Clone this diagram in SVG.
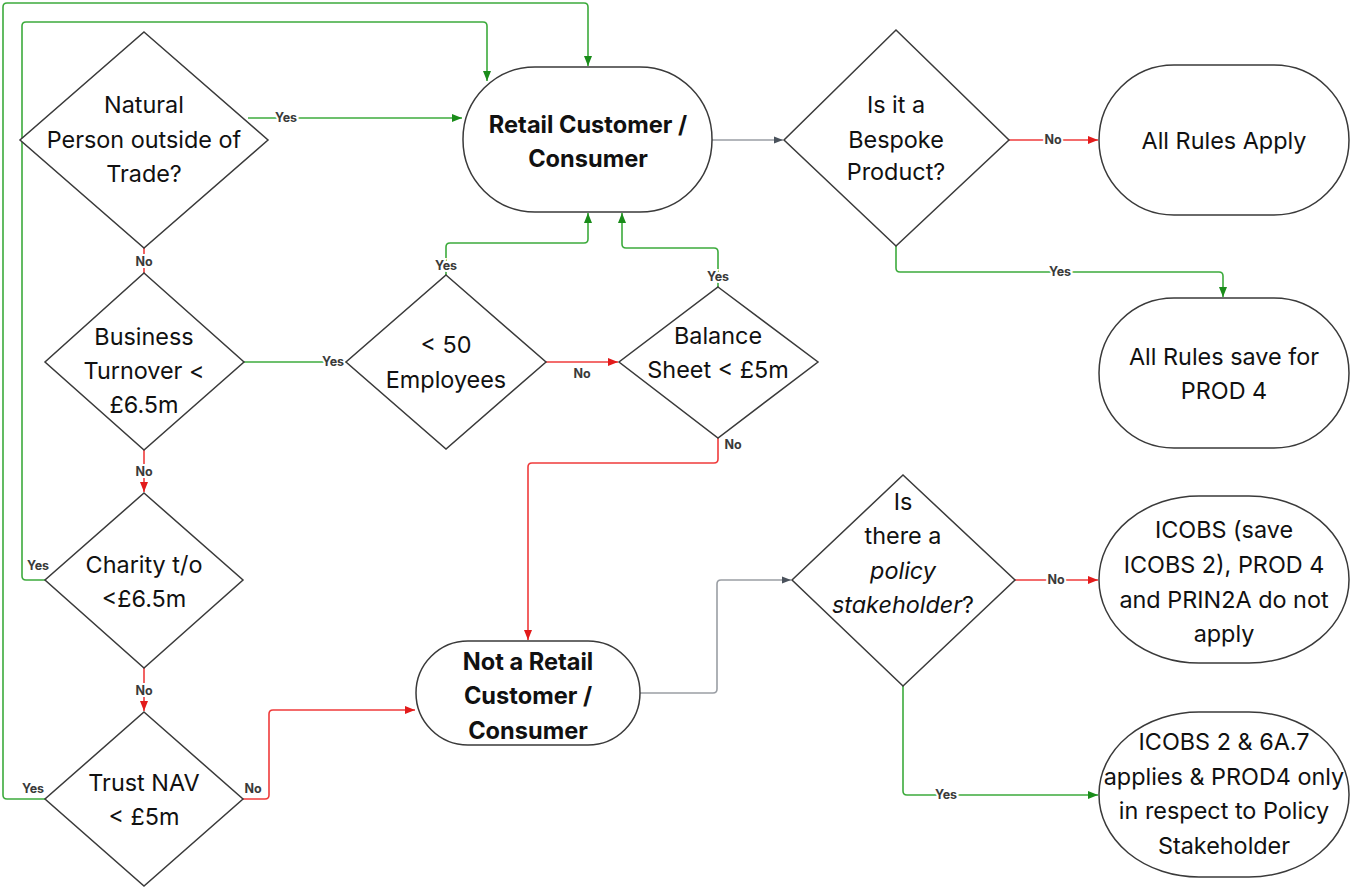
<svg xmlns="http://www.w3.org/2000/svg" width="1350" height="888" viewBox="0 0 1350 888">
<style>
.node{fill:#fff;stroke:#3a3a3a;stroke-width:1.5}
.t{font-family:Inter,"Liberation Sans",sans-serif;font-size:23.4px;fill:#111;text-anchor:middle}
.b{font-weight:bold;font-size:23.6px}
.g{fill:none;stroke:#3cab3c;stroke-width:1.6}
.r{fill:none;stroke:#ef3b3b;stroke-width:1.6}
.k{fill:none;stroke:#9a9ea4;stroke-width:1.6}
.l{font-family:Inter,"Liberation Sans",sans-serif;font-size:12.5px;font-weight:bold;fill:#3a3a3a;text-anchor:middle;paint-order:stroke;stroke:#fff;stroke-width:4px}
</style>
<defs>
<marker id="ag" viewBox="0 0 10 10" refX="10" refY="5" markerWidth="10" markerHeight="10" markerUnits="userSpaceOnUse" orient="auto"><path d="M0,1 L10,5 L0,9 z" fill="#1a8c1a"/></marker>
<marker id="ar" viewBox="0 0 10 10" refX="10" refY="5" markerWidth="10" markerHeight="10" markerUnits="userSpaceOnUse" orient="auto"><path d="M0,1 L10,5 L0,9 z" fill="#e21b1b"/></marker>
<marker id="ak" viewBox="0 0 10 10" refX="10" refY="5" markerWidth="9" markerHeight="9" markerUnits="userSpaceOnUse" orient="auto"><path d="M0,1 L10,5 L0,9 z" fill="#4a525c"/></marker>
</defs>
<rect width="1350" height="888" fill="#fff"/>

<g id="connectors">
<path class="g" d="M248,118 H462" marker-end="url(#ag)"/>
<path class="r" d="M144,248 V273"/>
<path class="g" d="M244,362 H346"/>
<path class="r" d="M144,450 V492" marker-end="url(#ar)"/>
<path class="g" d="M45,580 H26 Q22,580 22,576 V26 Q22,22 26,22 H483 Q487,22 487,26 V81" marker-end="url(#ag)"/>
<path class="r" d="M144,668 V711" marker-end="url(#ar)"/>
<path class="g" d="M45,799 H7 Q3,799 3,795 V7 Q3,3 7,3 H584 Q588,3 588,7 V66" marker-end="url(#ag)"/>
<path class="r" d="M243,799 H265 Q269,799 269,795 V714 Q269,710 273,710 H415" marker-end="url(#ar)"/>
<path class="g" d="M446,275 V247 Q446,243 450,243 H584 Q588,243 588,239 V213" marker-end="url(#ag)"/>
<path class="r" d="M546,362 H618" marker-end="url(#ar)"/>
<path class="g" d="M718,287 V252 Q718,248 714,248 H626 Q622,248 622,244 V213" marker-end="url(#ag)"/>
<path class="r" d="M718,438 V459 Q718,463 714,463 H532 Q528,463 528,467 V640" marker-end="url(#ar)"/>
<path class="k" d="M712,140 H783" marker-end="url(#ak)"/>
<path class="r" d="M1009,140 H1098" marker-end="url(#ar)"/>
<path class="g" d="M896,246 V268 Q896,272 900,272 H1219 Q1223,272 1223,276 V297" marker-end="url(#ag)"/>
<path class="k" d="M640,693 H713 Q717,693 717,689 V584 Q717,580 721,580 H791" marker-end="url(#ak)"/>
<path class="r" d="M1015,580 H1098" marker-end="url(#ar)"/>
<path class="g" d="M903,686 V791 Q903,795 907,795 H1098" marker-end="url(#ag)"/>
<text class="l" x="286" y="122">Yes</text>
<text class="l" x="144" y="266">No</text>
<text class="l" x="333" y="366">Yes</text>
<text class="l" x="144" y="476">No</text>
<text class="l" x="38" y="570">Yes</text>
<text class="l" x="144" y="695">No</text>
<text class="l" x="33" y="793">Yes</text>
<text class="l" x="253" y="793">No</text>
<text class="l" x="446" y="270">Yes</text>
<text class="l" x="582" y="378">No</text>
<text class="l" x="718" y="281">Yes</text>
<text class="l" x="733" y="449">No</text>
<text class="l" x="1053" y="144">No</text>
<text class="l" x="1060" y="276">Yes</text>
<text class="l" x="1056" y="584">No</text>
<text class="l" x="946" y="799">Yes</text>
</g>

<g id="natural">
<polygon class="node" points="144,32 268,140 144,248 20,140"/>
<text class="t" x="144" y="113">Natural</text>
<text class="t" x="144" y="148">Person outside of</text>
<text class="t" x="144" y="182">Trade?</text>
</g>
<g id="retail">
<rect class="node" x="463" y="67" width="249" height="145" rx="72" ry="72"/>
<text class="t b" x="588" y="133">Retail Customer /</text>
<text class="t b" x="588" y="167">Consumer</text>
</g>
<g id="bespoke">
<polygon class="node" points="896,30 1009,140 896,246 784,140"/>
<text class="t" x="896" y="113">Is it a</text>
<text class="t" x="896" y="148">Bespoke</text>
<text class="t" x="896" y="180">Product?</text>
</g>
<g id="allrules">
<rect class="node" x="1099" y="65" width="250" height="150" rx="75" ry="75"/>
<text class="t" x="1224" y="149">All Rules Apply</text>
</g>
<g id="allrulessave">
<rect class="node" x="1099" y="298" width="250" height="150" rx="75" ry="75"/>
<text class="t" x="1224" y="365">All Rules save for</text>
<text class="t" x="1224" y="399">PROD 4</text>
</g>
<g id="business">
<polygon class="node" points="144,273 244,362 144,450 45,362"/>
<text class="t" x="144" y="345">Business</text>
<text class="t" x="144" y="379">Turnover &lt;</text>
<text class="t" x="144" y="413">£6.5m</text>
</g>
<g id="employees">
<polygon class="node" points="446,275 546,362 446,449 346,362"/>
<text class="t" x="446" y="353">&lt; 50</text>
<text class="t" x="446" y="388">Employees</text>
</g>
<g id="balance">
<polygon class="node" points="718,287 818,362 718,438 619,362"/>
<text class="t" x="718" y="344">Balance</text>
<text class="t" x="718" y="378">Sheet &lt; £5m</text>
</g>
<g id="charity">
<polygon class="node" points="144,493 243,580 144,668 45,580"/>
<text class="t" x="144" y="573">Charity t/o</text>
<text class="t" x="144" y="607">&lt;£6.5m</text>
</g>
<g id="trust">
<polygon class="node" points="144,712 243,799 144,886 45,799"/>
<text class="t" x="144" y="791">Trust NAV</text>
<text class="t" x="144" y="825">&lt; £5m</text>
</g>
<g id="notretail">
<rect class="node" x="416" y="641" width="224" height="104" rx="52" ry="52"/>
<text class="t b" x="528" y="670">Not a Retail</text>
<text class="t b" x="528" y="704">Customer /</text>
<text class="t b" x="528" y="739">Consumer</text>
</g>
<g id="policy">
<polygon class="node" points="903,475 1015,580 903,686 792,580"/>
<text class="t" x="903" y="510">Is</text>
<text class="t" x="903" y="544">there a</text>
<text class="t" x="903" y="579" font-style="italic">policy</text>
<text class="t" x="903" y="613"><tspan font-style="italic">stakeholder</tspan>?</text>
</g>
<g id="icobs">
<rect class="node" x="1099" y="496" width="250" height="167" rx="100" ry="83"/>
<text class="t" x="1224" y="538">ICOBS (save</text>
<text class="t" x="1224" y="573">ICOBS 2), PROD 4</text>
<text class="t" x="1224" y="608">and PRIN2A do not</text>
<text class="t" x="1224" y="642">apply</text>
</g>
<g id="icobs2">
<rect class="node" x="1099" y="712" width="250" height="165" rx="100" ry="82"/>
<text class="t" x="1224" y="750">ICOBS 2 &amp; 6A.7</text>
<text class="t" x="1224" y="785">applies &amp; PROD4 only</text>
<text class="t" x="1224" y="819">in respect to Policy</text>
<text class="t" x="1224" y="854">Stakeholder</text>
</g>
</svg>
